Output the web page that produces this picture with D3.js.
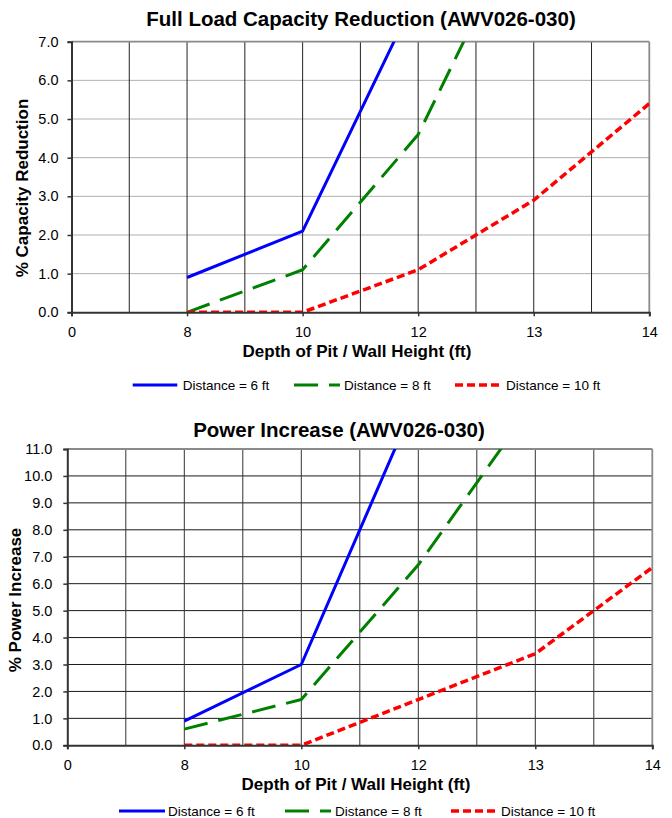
<!DOCTYPE html>
<html>
<head>
<meta charset="utf-8">
<script src="https://cdn.jsdelivr.net/npm/d3@7"></script>
<style>
  html, body { margin: 0; padding: 0; background: #fff; }
  svg { display: block; }
  text { font-family: Arial, "Liberation Sans", sans-serif; fill: #000; }
</style>
</head>
<body>
<svg id="chart" width="672" height="818"></svg>
<script>
// ---- data ----
const xLabels = ["0", "8", "10", "12", "13", "14"];
const seriesNames = ["Distance = 6 ft", "Distance = 8 ft", "Distance = 10 ft"];

const capacity6  = [null, 0.9, 2.1, 8.3, null, null];
const capacity8  = [null, 0.0, 1.1, 4.6, 10.7, null];
const capacity10 = [null, 0.0, 0.0, 1.1, 2.9, 5.4];

const power6  = [null, 0.9, 3.0, 13.0, null, null];
const power8  = [null, 0.6, 1.7, 6.7, 12.8, null];
const power10 = [null, 0.0, 0.0, 1.7, 3.4, 6.6];

const capacityTicks = [0, 1, 2, 3, 4, 5, 6, 7];
const powerTicks = [0, 1, 2, 3, 4, 5, 6, 7, 8, 9, 10, 11];

// ---- styles ----
const seriesStyles = [
  { color: "#0000FF", dash: null,    width: 3 },
  { color: "#008000", dash: "24,11", width: 3 },
  { color: "#FF0000", dash: "8,4",   width: 3.5 }
];

const svg = d3.select("#chart");

function drawChart(cfg) {
  const g = svg.append("g");
  const x = d3.scaleLinear().domain([0, xLabels.length - 1]).range([cfg.left, cfg.right]);
  const y = d3.scaleLinear().domain([0, d3.max(cfg.yTicks)]).range([cfg.bottom, cfg.top]);

  // horizontal grid
  g.append("g").selectAll("line").data(cfg.yTicks.slice(1, -1)).join("line")
    .attr("x1", cfg.left).attr("x2", cfg.right)
    .attr("y1", d => y(d)).attr("y2", d => y(d))
    .attr("stroke", cfg.hGrid).attr("stroke-width", 1);

  // vertical grid (every half category)
  const vg = d3.range(0.5, xLabels.length - 1, 0.5);
  g.append("g").selectAll("line").data(vg).join("line")
    .attr("x1", d => x(d)).attr("x2", d => x(d))
    .attr("y1", cfg.top).attr("y2", cfg.bottom)
    .attr("stroke", cfg.vGrid).attr("stroke-width", 1);

  // border top / right
  g.append("line").attr("x1", cfg.left).attr("x2", cfg.right).attr("y1", cfg.top).attr("y2", cfg.top)
    .attr("stroke", "#8a8a8a").attr("stroke-width", 1.8);
  g.append("line").attr("x1", cfg.right).attr("x2", cfg.right).attr("y1", cfg.top).attr("y2", cfg.bottom)
    .attr("stroke", "#8a8a8a").attr("stroke-width", 1.8);

  // clip
  const clipId = "clip" + cfg.id;
  svg.append("defs").append("clipPath").attr("id", clipId)
    .append("rect").attr("x", cfg.left).attr("y", cfg.top)
    .attr("width", cfg.right - cfg.left).attr("height", cfg.bottom - cfg.top);

  // lines
  const line = d3.line()
    .defined(d => d.v !== null)
    .x(d => x(d.i)).y(d => y(d.v));
  const lg = g.append("g").attr("clip-path", `url(#${clipId})`);
  cfg.series.forEach((s, k) => {
    const st = seriesStyles[k];
    lg.append("path")
      .datum(s.map((v, i) => ({ i, v })))
      .attr("d", line)
      .attr("fill", "none")
      .attr("stroke", st.color)
      .attr("stroke-width", st.width)
      .attr("stroke-dasharray", st.dash)
      .attr("stroke-linejoin", "round");
  });

  // y axis
  const yAxis = d3.axisLeft(y).tickValues(cfg.yTicks).tickFormat(d3.format(".1f"))
    .tickSize(4).tickPadding(cfg.yPad);
  const ya = g.append("g").attr("transform", `translate(${cfg.left},0)`).call(yAxis);
  ya.select(".domain").attr("stroke", "#333").attr("stroke-width", 2);
  ya.selectAll(".tick line").attr("stroke", "#333").attr("stroke-width", 1.5);
  ya.selectAll(".tick text").attr("font-size", 14.5).attr("fill", "#000")
    .style("font-family", 'Arial, "Liberation Sans", sans-serif');

  // x axis
  const xAxis = d3.axisBottom(x).tickValues(d3.range(xLabels.length)).tickFormat(i => xLabels[i])
    .tickSize(4).tickPadding(10);
  const xa = g.append("g").attr("transform", `translate(0,${cfg.bottom})`).call(xAxis);
  xa.select(".domain").attr("stroke", "#333").attr("stroke-width", 2);
  xa.selectAll(".tick line").attr("stroke", "#333").attr("stroke-width", 1.5);
  xa.selectAll(".tick text").attr("font-size", 14.5).attr("fill", "#000")
    .style("font-family", 'Arial, "Liberation Sans", sans-serif');

  // titles
  g.append("text").attr("x", cfg.titleX).attr("y", cfg.titleY)
    .attr("text-anchor", "middle").attr("font-size", 20.5).attr("font-weight", "bold")
    .text(cfg.title);
  g.append("text").attr("x", cfg.xTitleX).attr("y", cfg.xTitleY)
    .attr("text-anchor", "middle").attr("font-size", 17).attr("font-weight", "bold")
    .text("Depth of Pit / Wall Height (ft)");
  g.append("text")
    .attr("transform", `translate(${cfg.yTitleX},${cfg.yTitleY}) rotate(-90)`)
    .attr("text-anchor", "middle").attr("font-size", 17).attr("font-weight", "bold")
    .text(cfg.yTitle);

  // legend
  cfg.legend.forEach((p, k) => {
    const st = seriesStyles[k];
    g.append("line").attr("x1", p[0]).attr("x2", p[1]).attr("y1", cfg.legendY).attr("y2", cfg.legendY)
      .attr("stroke", st.color).attr("stroke-width", st.width).attr("stroke-dasharray", st.dash);
    g.append("text").attr("x", p[2]).attr("y", cfg.legendY + 5)
      .attr("font-size", 13.5).text(seriesNames[k]);
  });
}

drawChart({
  id: 1,
  left: 71.5, right: 649.3, top: 41.7, bottom: 312.3,
  yTicks: capacityTicks, yPad: 9,
  series: [capacity6, capacity8, capacity10],
  hGrid: "#b0b0b0", vGrid: "#222",
  title: "Full Load Capacity Reduction (AWV026-030)", titleX: 361, titleY: 26,
  xTitleX: 357, xTitleY: 357,
  yTitle: "% Capacity Reduction", yTitleX: 28, yTitleY: 188,
  legendY: 385,
  legend: [[132.7, 177.3, 182.7], [294, 340, 344], [455, 501.7, 506]]
});

drawChart({
  id: 2,
  left: 67.3, right: 652.3, top: 449, bottom: 745.3,
  yTicks: powerTicks, yPad: 11,
  series: [power6, power8, power10],
  hGrid: "#1a1a1a", vGrid: "#333",
  title: "Power Increase (AWV026-030)", titleX: 339, titleY: 437,
  xTitleX: 356, xTitleY: 790,
  yTitle: "% Power Increase", yTitleX: 21, yTitleY: 600,
  legendY: 811,
  legend: [[119, 165, 168], [285, 331, 335], [451, 498, 501]]
});
</script>
</body>
</html>
